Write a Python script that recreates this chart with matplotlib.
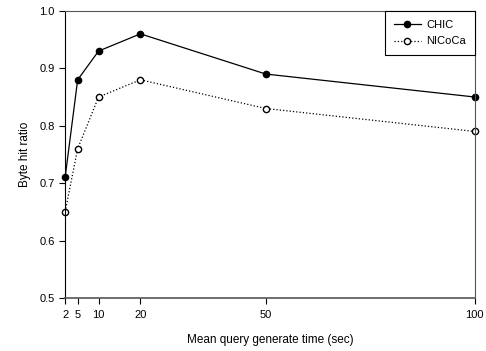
import matplotlib.pyplot as plt

plt.rcParams['font.family'] = ['Liberation Sans', 'DejaVu Sans']

query_time = [2, 5, 10, 20, 50, 100]
chic = [0.71, 0.88, 0.93, 0.96, 0.89, 0.85]
nicoca = [0.65, 0.76, 0.85, 0.88, 0.83, 0.79]

fig = plt.figure(figsize=(4.86, 3.51), dpi=100)
ax = fig.add_axes([0.134, 0.151, 0.843, 0.818])

ax.plot(query_time, chic, color='black', linestyle='-', linewidth=0.9,
        marker='o', markersize=4.5, markerfacecolor='black', label='CHIC', clip_on=False)
ax.plot(query_time, nicoca, color='black', linestyle=':', linewidth=0.9,
        marker='o', markersize=4.5, markerfacecolor='white', label='NICoCa', clip_on=False)

ax.set_xlim(2, 100)
ax.set_ylim(0.5, 1.0)
ax.set_xticks(query_time)
ax.set_yticks([0.5, 0.6, 0.7, 0.8, 0.9, 1.0])
ax.set_yticklabels(['0.5', '0.6', '0.7', '0.8', '0.9', '1.0'])
ax.tick_params(direction='out', length=4, width=0.8, labelsize=8, top=False, right=False)
ax.tick_params(axis='x', pad=5)
for s in ax.spines.values():
    s.set_linewidth(0.8)
ax.spines['bottom'].set_color('#555555')
ax.spines['bottom'].set_linewidth(1.2)
ax.spines['top'].set_color('#555555')
ax.spines['right'].set_color('#555555')

ax.set_xlabel('Mean query generate time (sec)', fontsize=8.5, labelpad=10)
ax.set_ylabel('Byte hit ratio', fontsize=8.5, labelpad=6)

leg = ax.legend(loc='upper right', fontsize=8, fancybox=False, framealpha=1,
                edgecolor='black', borderaxespad=0, handlelength=2.4,
                borderpad=0.8, labelspacing=0.6, handletextpad=0.5)
leg.get_frame().set_linewidth(0.8)

fig.savefig('out.png', dpi=100)
